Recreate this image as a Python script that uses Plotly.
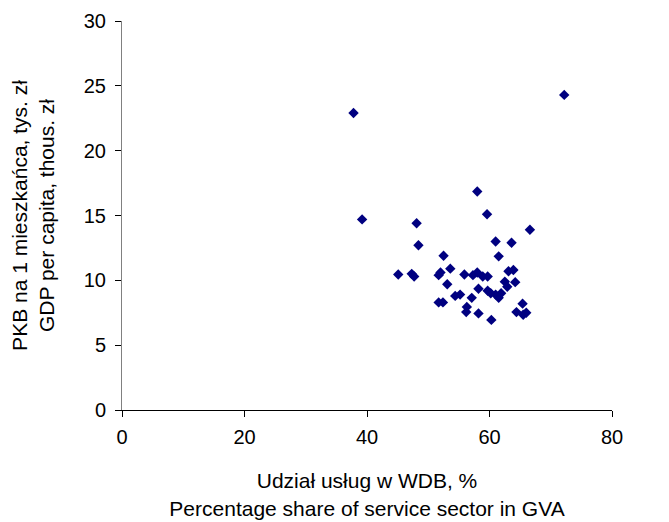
import plotly.graph_objects as go

# Share of services in GVA (%) and GDP per capita (thous. zł)
services_share = [37.8, 72.2, 39.2, 48.1, 48.4, 58.0, 59.6, 66.6, 61.0, 63.6,
                  52.5, 61.5, 53.6, 52.0, 51.7, 45.1, 47.3, 47.7, 55.9, 57.3,
                  58.0, 58.9, 59.7, 63.1, 63.9, 62.5, 62.9, 64.2, 53.1, 58.2,
                  59.7, 54.4, 55.2, 57.1, 60.2, 61.0, 61.9, 61.5, 51.7, 52.4,
                  56.3, 56.2, 58.2, 60.3, 65.4, 64.4, 65.5, 66.0]
gdp_per_capita = [22.9, 24.3, 14.7, 14.4, 12.7, 16.85, 15.1, 13.9, 13.0, 12.9,
                  11.9, 11.85, 10.9, 10.6, 10.4, 10.45, 10.5, 10.3, 10.45, 10.4,
                  10.6, 10.3, 10.3, 10.7, 10.8, 9.9, 9.5, 9.86, 9.7, 9.35,
                  9.2, 8.8, 8.9, 8.65, 9.0, 8.9, 9.0, 8.65, 8.3, 8.3,
                  7.95, 7.55, 7.45, 6.95, 8.2, 7.55, 7.35, 7.5]

x_ticks = [0, 20, 40, 60, 80]
y_ticks = [0, 5, 10, 15, 20, 25, 30]

fig = go.Figure(go.Scatter(
    x=services_share, y=gdp_per_capita, mode="markers",
    marker=dict(symbol="diamond", size=8, color="#000080", line=dict(width=0)),
    showlegend=False,
))

font = dict(family="Liberation Sans, Arial, sans-serif", size=20, color="#000000")

fig.update_layout(
    width=661, height=514,
    margin=dict(l=114, r=57, t=13, b=112),
    paper_bgcolor="white", plot_bgcolor="white",
    font=font,
)
fig.update_xaxes(
    range=[0, 80], tickvals=x_ticks, showgrid=False, zeroline=False,
    showline=True, linecolor="#000000", linewidth=1,
    ticks="outside", ticklen=6, tickcolor="#000000",
    ticklabelstandoff=3, automargin=False,
    title=dict(text="Udział usług w WDB, %<br>Percentage share of service sector in GVA",
               font=dict(size=21), standoff=26),
)
fig.update_yaxes(
    range=[0, 30], tickvals=y_ticks, showgrid=False, zeroline=False,
    showline=True, linecolor="#808080", linewidth=1,
    ticks="outside", ticklen=6, tickcolor="#000000",
    ticklabelstandoff=5, automargin=False,
    title=dict(text="PKB na 1 mieszkańca, tys. zł<br>GDP per capita, thous. zł",
               font=dict(size=21), standoff=29),
)

fig.write_html("out.html")
